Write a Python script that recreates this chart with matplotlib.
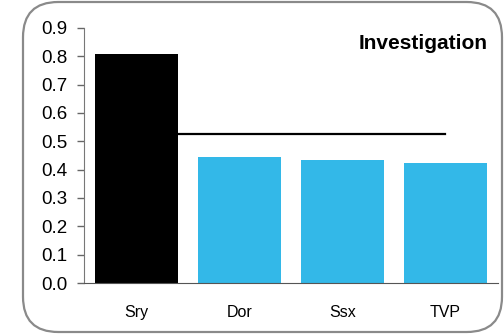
import matplotlib.pyplot as plt
from matplotlib.patches import FancyBboxPatch

plt.rcParams["font.family"] = ["Liberation Sans", "DejaVu Sans"]

# Data
categories = ["Sry", "Dor", "Ssx", "TVP"]
values = [0.808, 0.445, 0.434, 0.424]
bar_colors = ["#000000", "#33B8E8", "#33B8E8", "#33B8E8"]
ref_level = 0.527
ref_span = ["Sry", "TVP"]

fig = plt.figure(figsize=(5.04, 3.34), dpi=100)

# Rounded frame around the chart
frame = FancyBboxPatch(
    (23 / 504, 2 / 334), 479 / 504, 330 / 334,
    boxstyle="round,pad=0,rounding_size=0.07",
    transform=fig.transFigure, facecolor="none", edgecolor="#8a8a8a",
    linewidth=1.6, mutation_aspect=504 / 334, zorder=-1,
)
fig.patches.append(frame)

ax = fig.add_axes([84 / 504, 1 - 283 / 334, 414 / 504, 255 / 334])
ax.set_facecolor("none")

x = range(len(categories))
ax.bar(x, values, width=0.8, color=bar_colors, zorder=2)
i0, i1 = categories.index(ref_span[0]), categories.index(ref_span[1])
ax.plot([i0, i1], [ref_level, ref_level], color="black", lw=1.6, zorder=1)

ax.set_xlim(-0.51, 3.51)
ax.set_ylim(0, 0.9)
ax.set_yticks([i / 10 for i in range(10)])
ax.set_yticklabels([f"{i / 10:.1f}" for i in range(10)], fontsize=13.5)
ax.set_xticks(list(x))
ax.set_xticklabels(categories, fontsize=11.5)
ax.tick_params(axis="x", length=0, pad=16)
ax.tick_params(axis="y", length=5, color="#666666", width=1, pad=7)

for side in ["top", "right"]:
    ax.spines[side].set_visible(False)
ax.spines["left"].set_color("#777777")
ax.spines["bottom"].set_color("#555555")

ax.text(0.975, 0.975, "Investigation", transform=ax.transAxes, ha="right",
        va="top", fontsize=15, fontweight="bold")

fig.savefig("out.png", dpi=100)
